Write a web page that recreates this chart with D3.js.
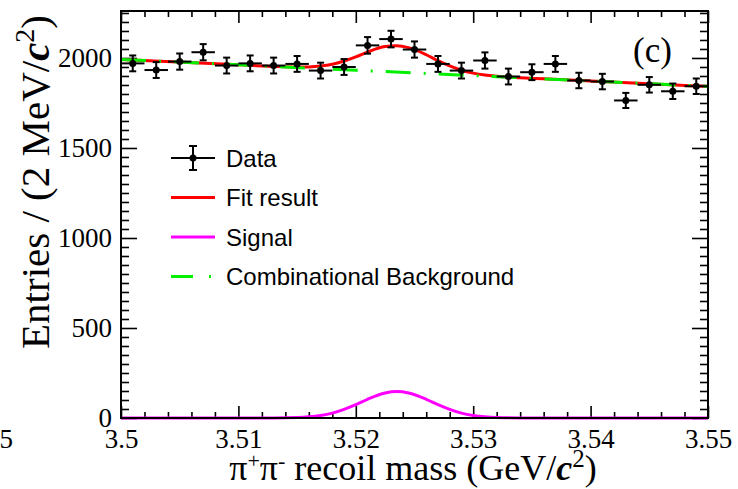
<!DOCTYPE html>
<html>
<head>
<meta charset="utf-8">
<script src="https://cdn.jsdelivr.net/npm/d3@7"></script>
<style>
  body { margin: 0; background: #fff; }
  svg { display: block; }
</style>
</head>
<body>
<svg width="738" height="489"></svg>
<script>
// 2 MeV bins, centres in GeV/c^2
var binCenters = [3.501, 3.503, 3.505, 3.507, 3.509, 3.511, 3.513, 3.515, 3.517, 3.519,
                  3.521, 3.523, 3.525, 3.527, 3.529, 3.531, 3.533, 3.535, 3.537, 3.539,
                  3.541, 3.543, 3.545, 3.547, 3.549];
var entries = [1970, 1933, 1980, 2032, 1958, 1970, 1958, 1967, 1930, 1950,
               2070, 2105, 2047, 1967, 1930, 1986, 1897, 1921, 1967, 1875,
               1869, 1764, 1851, 1815, 1843];
var entryErrors = [44, 44, 45, 45, 44, 44, 44, 44, 44, 44,
                   46, 46, 45, 44, 44, 45, 44, 44, 44, 43,
                   43, 42, 43, 43, 43];

// combinational background
var bkgMass = [3.50, 3.51, 3.52, 3.53, 3.54, 3.55];
var bkgValues = [1992, 1962, 1932, 1902, 1872, 1842];

// signal shape
var sigMass = [3.500, 3.511, 3.513, 3.515, 3.516, 3.517, 3.518, 3.519, 3.520, 3.521,
               3.5225, 3.5235, 3.5245, 3.526, 3.527, 3.528, 3.529, 3.530, 3.531, 3.532,
               3.534, 3.536, 3.550];
var sigValues = [0, 0, 0.3, 2.7, 6.5, 14, 27, 48, 74, 104,
                 139, 147, 139, 104, 74, 48, 27, 14, 6.5, 2.7,
                 0.3, 0, 0];

var xTicks = [3.50, 3.51, 3.52, 3.53, 3.54, 3.55];
var xTickLabels = ["3.5", "3.51", "3.52", "3.53", "3.54", "3.55"];
var yTicks = [0, 500, 1000, 1500, 2000];
var yTickLabels = ["0", "500", "1000", "1500", "2000"];

var legendLabels = ["Data", "Fit result", "Signal", "Combinational Background"];

var svg = d3.select("svg");
var frameL = 121, frameR = 708, frameT = 11, frameB = 418;
var serif = "'Liberation Serif', 'Times New Roman', serif";
var sans = "'Liberation Sans', Arial, Helvetica, sans-serif";

var x = d3.scaleLinear().domain([3.5, 3.55]).range([frameL, frameR]);
var y = d3.scaleLinear().domain([0, 2261]).range([frameB, frameT]);
var bkg = d3.scaleLinear().domain(bkgMass).range(bkgValues);

var totalValues = sigMass.map(function(m, i) { return bkg(m) + sigValues[i]; });

// minor tick positions
var xMinor = d3.range(3.502, 3.55, 0.002).filter(function(v) {
  return Math.abs(v * 100 - Math.round(v * 100)) > 1e-6;
});
var yMinor = d3.range(50, 2261, 50).filter(function(v) { return v % 500 !== 0; });

function styleAxis(g) {
  g.select(".domain").remove();
  g.selectAll("line").attr("stroke", "#000").attr("stroke-width", 1.6);
  g.selectAll("text").attr("font-family", serif).attr("font-size", 27).attr("fill", "#000");
}

// bottom axis
svg.append("g").attr("transform", "translate(0," + frameB + ")")
  .call(d3.axisBottom(x).tickValues(xTicks).tickSizeInner(-12).tickSizeOuter(0).tickPadding(11)
    .tickFormat(function(d, i) { return xTickLabels[i]; }))
  .call(styleAxis);
svg.append("g").attr("transform", "translate(0," + frameB + ")")
  .call(d3.axisBottom(x).tickValues(xMinor).tickSizeInner(-6).tickSizeOuter(0).tickFormat(""))
  .call(styleAxis);
// top axis
svg.append("g").attr("transform", "translate(0," + frameT + ")")
  .call(d3.axisTop(x).tickValues(xTicks).tickSizeInner(-12).tickSizeOuter(0).tickFormat(""))
  .call(styleAxis);
svg.append("g").attr("transform", "translate(0," + frameT + ")")
  .call(d3.axisTop(x).tickValues(xMinor).tickSizeInner(-6).tickSizeOuter(0).tickFormat(""))
  .call(styleAxis);
// left axis
svg.append("g").attr("transform", "translate(" + frameL + ",0)")
  .call(d3.axisLeft(y).tickValues(yTicks).tickSizeInner(-16).tickSizeOuter(0).tickPadding(9)
    .tickFormat(function(d, i) { return yTickLabels[i]; }))
  .call(styleAxis);
svg.append("g").attr("transform", "translate(" + frameL + ",0)")
  .call(d3.axisLeft(y).tickValues(yMinor).tickSizeInner(-8).tickSizeOuter(0).tickFormat(""))
  .call(styleAxis);
// right axis
svg.append("g").attr("transform", "translate(" + frameR + ",0)")
  .call(d3.axisRight(y).tickValues(yTicks).tickSizeInner(-16).tickSizeOuter(0).tickFormat(""))
  .call(styleAxis);
svg.append("g").attr("transform", "translate(" + frameR + ",0)")
  .call(d3.axisRight(y).tickValues(yMinor).tickSizeInner(-8).tickSizeOuter(0).tickFormat(""))
  .call(styleAxis);

// cut label from the neighbouring panel
svg.append("text").attr("x", 13).attr("y", 448).attr("text-anchor", "end")
  .attr("font-family", serif).attr("font-size", 27).text("3.55");

// curves
var line = d3.line().x(function(d) { return x(d[0]); }).y(function(d) { return y(d[1]); })
  .curve(d3.curveMonotoneX);

svg.append("path").datum(sigMass.map(function(m, i) { return [m, totalValues[i]]; }))
  .attr("d", line).attr("fill", "none").attr("stroke", "#ff0000").attr("stroke-width", 3);
svg.append("path").datum(sigMass.map(function(m, i) { return [m, sigValues[i]]; }))
  .attr("d", line).attr("fill", "none").attr("stroke", "#ff00ff").attr("stroke-width", 3);
svg.append("path").datum(bkgMass.map(function(m, i) { return [m, bkgValues[i]]; }))
  .attr("d", line).attr("fill", "none").attr("stroke", "#00f000").attr("stroke-width", 3)
  .attr("stroke-dasharray", "25,13,2,13");

// data points
var halfBin = x(3.501) - x(3.5);
var pts = svg.append("g").selectAll("g").data(binCenters).enter().append("g");
pts.append("line")
  .attr("x1", function(d) { return x(d) - halfBin; }).attr("x2", function(d) { return x(d) + halfBin; })
  .attr("y1", function(d, i) { return y(entries[i]); }).attr("y2", function(d, i) { return y(entries[i]); })
  .attr("stroke", "#000").attr("stroke-width", 2);
pts.append("line")
  .attr("x1", function(d) { return x(d); }).attr("x2", function(d) { return x(d); })
  .attr("y1", function(d, i) { return y(entries[i] - entryErrors[i]); })
  .attr("y2", function(d, i) { return y(entries[i] + entryErrors[i]); })
  .attr("stroke", "#000").attr("stroke-width", 2);
[1, -1].forEach(function(s) {
  pts.append("line")
    .attr("x1", function(d) { return x(d) - 3.5; }).attr("x2", function(d) { return x(d) + 3.5; })
    .attr("y1", function(d, i) { return y(entries[i] + s * entryErrors[i]); })
    .attr("y2", function(d, i) { return y(entries[i] + s * entryErrors[i]); })
    .attr("stroke", "#000").attr("stroke-width", 2);
});
pts.append("circle")
  .attr("cx", function(d) { return x(d); }).attr("cy", function(d, i) { return y(entries[i]); })
  .attr("r", 3.5).attr("fill", "#000");

// frame
svg.append("rect").attr("x", frameL).attr("y", frameT).attr("width", frameR - frameL).attr("height", frameB - frameT)
  .attr("fill", "none").attr("stroke", "#000").attr("stroke-width", 2);

// legend
var legend = svg.append("g").attr("transform", "translate(171,158)");
var rowStep = 39.5;
var legendColors = ["#000", "#ff0000", "#ff00ff", "#00f000"];
legendLabels.forEach(function(label, i) {
  var row = legend.append("g").attr("transform", "translate(0," + (i * rowStep) + ")");
  if (i === 0) {
    row.append("line").attr("x1", 0).attr("x2", 44).attr("stroke", "#000").attr("stroke-width", 2);
    row.append("line").attr("x1", 22).attr("x2", 22).attr("y1", -12).attr("y2", 12).attr("stroke", "#000").attr("stroke-width", 2);
    row.append("line").attr("x1", 18).attr("x2", 26).attr("y1", -12).attr("y2", -12).attr("stroke", "#000").attr("stroke-width", 2);
    row.append("line").attr("x1", 18).attr("x2", 26).attr("y1", 12).attr("y2", 12).attr("stroke", "#000").attr("stroke-width", 2);
    row.append("circle").attr("cx", 22).attr("r", 3.5).attr("fill", "#000");
  } else {
    var l = row.append("line").attr("x1", 0).attr("x2", 44).attr("stroke", legendColors[i]).attr("stroke-width", 3);
    if (i === 3) l.attr("stroke-dasharray", "22,16,2,10");
  }
  row.append("text").attr("x", 55).attr("y", 8.7).attr("font-family", sans).attr("font-size", 24)
    .attr("fill", "#000").text(label);
});

// panel label
svg.append("text").attr("x", 633).attr("y", 62).attr("font-family", serif).attr("font-size", 35).text("(c)");

// axis titles
var xt = svg.append("text").attr("x", 413).attr("y", 480).attr("text-anchor", "middle")
  .attr("font-family", serif).attr("font-size", 36);
xt.append("tspan").text("\u03c0");
xt.append("tspan").attr("baseline-shift", "super").attr("font-size", 22).text("+");
xt.append("tspan").text("\u03c0");
xt.append("tspan").attr("baseline-shift", "super").attr("font-size", 22).text("-");
xt.append("tspan").text(" recoil mass (GeV/");
xt.append("tspan").attr("font-weight", "bold").attr("font-style", "italic").text("c");
xt.append("tspan").attr("baseline-shift", "super").attr("font-size", 25).text("2");
xt.append("tspan").text(")");

var yt = svg.append("text").attr("transform", "rotate(-90)").attr("x", -15).attr("y", 49)
  .attr("text-anchor", "end").attr("font-family", serif).attr("font-size", 41);
yt.append("tspan").text("Entries / (2 MeV/");
yt.append("tspan").attr("font-weight", "bold").attr("font-style", "italic").text("c");
yt.append("tspan").attr("baseline-shift", "super").attr("font-size", 28).text("2");
yt.append("tspan").text(")");
</script>
</body>
</html>
